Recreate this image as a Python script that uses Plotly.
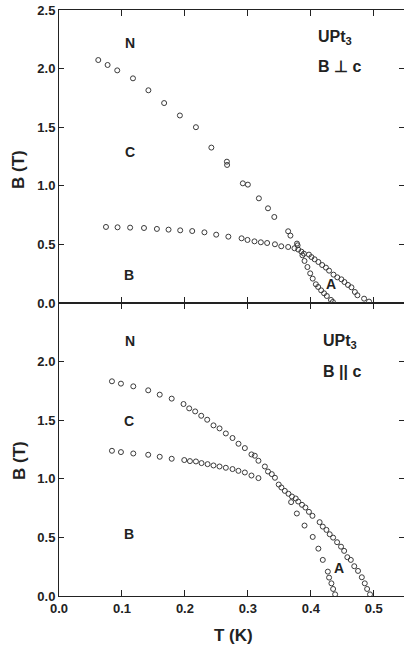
import plotly.graph_objects as go

# ---------------- data: B perpendicular c (top panel) ----------------
perp_hc2_T = [0.0624, 0.0772, 0.0925, 0.1175, 0.142, 0.167, 0.192, 0.2175, 0.242,
              0.2667, 0.267, 0.292, 0.300, 0.3175, 0.332, 0.342, 0.364, 0.3676, 0.378, 0.379,
              0.389, 0.397, 0.401, 0.406, 0.412, 0.418, 0.424, 0.429, 0.436, 0.442,
              0.4486, 0.4534, 0.459, 0.4645, 0.470, 0.474, 0.4846, 0.4925]
perp_hc2_B = [2.073, 2.031, 1.985, 1.917, 1.815, 1.706, 1.600, 1.500, 1.326,
              1.206, 1.178, 1.021, 1.010, 0.893, 0.808, 0.734, 0.612, 0.575, 0.507, 0.492,
              0.421, 0.413, 0.392, 0.373, 0.350, 0.324, 0.302, 0.276, 0.242, 0.219,
              0.202, 0.179, 0.154, 0.134, 0.094, 0.066, 0.037, 0.012]

perp_low_T = [0.0746, 0.093, 0.113, 0.135, 0.1555, 0.174, 0.1925, 0.2116, 0.231,
              0.2497, 0.269, 0.290, 0.2994, 0.3105, 0.3206, 0.3306, 0.343, 0.353,
              0.364, 0.374, 0.380, 0.385,
              0.3867, 0.390, 0.3946, 0.399, 0.403, 0.408, 0.4116, 0.4164, 0.421,
              0.4254, 0.432, 0.435]
perp_low_B = [0.649, 0.646, 0.643, 0.640, 0.632, 0.626, 0.620, 0.614, 0.603,
              0.583, 0.566, 0.552, 0.538, 0.526, 0.518, 0.512, 0.501, 0.484,
              0.478, 0.467, 0.456, 0.438,
              0.407, 0.359, 0.307, 0.253, 0.208, 0.160, 0.137, 0.108, 0.083,
              0.060, 0.026, 0.009]

# ---------------- data: B parallel c (bottom panel) ----------------
para_hc2_T = [0.0841, 0.0984, 0.118, 0.1417, 0.160, 0.179, 0.1978, 0.2068, 0.2163,
              0.2259, 0.2354, 0.2454, 0.255, 0.265, 0.2756, 0.2851, 0.2952, 0.3057,
              0.311, 0.3168, 0.327, 0.332, 0.338, 0.343, 0.349, 0.3533, 0.3587,
              0.3645, 0.370, 0.376, 0.380, 0.386, 0.3914, 0.397, 0.4026, 0.414,
              0.419, 0.4248, 0.430, 0.4354, 0.4417, 0.448, 0.4529, 0.458, 0.4635,
              0.469, 0.475, 0.481, 0.4857, 0.4894, 0.494]
para_hc2_B = [1.832, 1.812, 1.789, 1.755, 1.718, 1.684, 1.638, 1.601, 1.575,
              1.538, 1.504, 1.456, 1.430, 1.387, 1.348, 1.299, 1.262, 1.208,
              1.197, 1.154, 1.105, 1.062, 1.040, 1.009, 0.951, 0.926, 0.897,
              0.872, 0.849, 0.832, 0.806, 0.778, 0.755, 0.718, 0.684, 0.630,
              0.592, 0.564, 0.527, 0.498, 0.459, 0.421, 0.385, 0.331, 0.308,
              0.254, 0.214, 0.160, 0.108, 0.060, 0.014]

para_low_T = [0.0841, 0.0984, 0.118, 0.1417, 0.160, 0.179, 0.199, 0.208, 0.2175,
              0.2264, 0.236, 0.2454, 0.255, 0.265, 0.2756, 0.285, 0.2952, 0.3057,
              0.3168, 0.3687, 0.3778, 0.390, 0.403, 0.412, 0.419, 0.427, 0.429,
              0.4327, 0.4354, 0.4386]
para_low_B = [1.239, 1.228, 1.216, 1.205, 1.188, 1.171, 1.160, 1.151, 1.148,
              1.134, 1.125, 1.114, 1.105, 1.094, 1.083, 1.068, 1.054, 1.028,
              1.006, 0.801, 0.704, 0.601, 0.504, 0.404, 0.308, 0.208, 0.157,
              0.108, 0.060, 0.014]

x_ticks = [0.0, 0.1, 0.2, 0.3, 0.4, 0.5]
x_tick_text = ["0.0", "0.1", "0.2", "0.3", "0.4", "0.5"]
top_y_ticks = [0.0, 0.5, 1.0, 1.5, 2.0, 2.5]
top_y_text = ["0.0", "0.5", "1.0", "1.5", "2.0", "2.5"]
bot_y_ticks = [0.0, 0.5, 1.0, 1.5, 2.0]
bot_y_text = ["0.0", "0.5", "1.0", "1.5", "2.0"]

FONT = "Liberation Sans, Arial, sans-serif"
INK = "#222222"
MARK = "#3a3a3a"

marker = dict(symbol="circle-open", size=5, color=MARK, line=dict(width=1, color=MARK))

fig = go.Figure()
for T, B in [(perp_hc2_T, perp_hc2_B), (perp_low_T, perp_low_B)]:
    fig.add_trace(go.Scatter(x=T, y=B, mode="markers", marker=marker,
                             xaxis="x2", yaxis="y", showlegend=False, hoverinfo="skip"))
for T, B in [(para_hc2_T, para_hc2_B), (para_low_T, para_low_B)]:
    fig.add_trace(go.Scatter(x=T, y=B, mode="markers", marker=marker,
                             xaxis="x", yaxis="y2", showlegend=False, hoverinfo="skip"))

tickfont = dict(family=FONT, size=13, color=INK, weight="bold")
common_x = dict(range=[0, 0.548], tickvals=x_ticks, ticktext=x_tick_text, ticks="inside",
                ticklen=6, tickwidth=1, tickcolor=INK, showline=True, linecolor=INK,
                linewidth=1, mirror="ticks", showgrid=False, zeroline=False, tickfont=tickfont,
                automargin=False)
common_y = dict(range=[0, 2.5], ticks="inside", ticklen=5, tickwidth=1, tickcolor=INK,
                showline=True, linecolor=INK, linewidth=1, mirror="ticks", showgrid=False,
                zeroline=False, tickfont=tickfont, automargin=False)

fig.update_layout(
    width=404, height=646,
    margin=dict(l=59, r=0, t=10, b=50, autoexpand=False),
    paper_bgcolor="white", plot_bgcolor="white",
    xaxis=dict(domain=[0, 1], anchor="y2", **common_x),
    xaxis2=dict(domain=[0, 1], anchor="y", showticklabels=False, **common_x),
    yaxis=dict(domain=[0.5, 1], anchor="x2", tickvals=top_y_ticks, ticktext=top_y_text, **common_y),
    yaxis2=dict(domain=[0, 0.5], anchor="x", tickvals=bot_y_ticks, ticktext=bot_y_text, **common_y),
)

lab = dict(family=FONT, size=14, color=INK, weight="bold")
big = dict(family=FONT, size=16, color=INK, weight="bold")
ttl = dict(family=FONT, size=17, color=INK, weight="bold")
ann = []
# top panel letters
for txt, x, y in [("N", 0.1127, 2.22), ("C", 0.1127, 1.291), ("B", 0.111, 0.235), ("A", 0.432, 0.158)]:
    ann.append(dict(text=txt, x=x, y=y, xref="x2", yref="y", xanchor="center",
                    yanchor="middle", showarrow=False, font=lab))
# bottom panel letters
for txt, x, y in [("N", 0.1127, 2.18), ("C", 0.111, 1.49), ("B", 0.111, 0.527), ("A", 0.444, 0.24)]:
    ann.append(dict(text=txt, x=x, y=y, xref="x", yref="y2", xanchor="center",
                    yanchor="middle", showarrow=False, font=lab))
ann += [
    dict(text="UPt<sub>3</sub>", x=0.408, y=2.36, xref="x2", yref="y", xanchor="left",
         yanchor="top", showarrow=False, font=big),
    dict(text="B \u22a5 c", x=0.408, y=2.018, xref="x2", yref="y", xanchor="left",
         yanchor="middle", showarrow=False, font=big),
    dict(text="UPt<sub>3</sub>", x=0.416, y=2.27, xref="x", yref="y2", xanchor="left",
         yanchor="top", showarrow=False, font=big),
    dict(text="B || c", x=0.416, y=1.914, xref="x", yref="y2", xanchor="left",
         yanchor="middle", showarrow=False, font=big),
    # axis titles
    dict(text="B (T)", x=-0.116, y=0.7287, xref="paper", yref="paper", textangle=-90,
         xanchor="center", yanchor="middle", showarrow=False, font=ttl),
    dict(text="B (T)", x=-0.116, y=0.232, xref="paper", yref="paper", textangle=-90,
         xanchor="center", yanchor="middle", showarrow=False, font=ttl),
    dict(text="T (K)", x=(233 - 59) / 345, y=-0.0666, xref="paper", yref="paper",
         xanchor="center", yanchor="middle", showarrow=False, font=ttl),
]
fig.update_layout(annotations=ann)

fig.write_html("out.html", config={"displayModeBar": False},
               post_script="document.body.style.margin='0px';document.body.style.overflow='hidden';")
